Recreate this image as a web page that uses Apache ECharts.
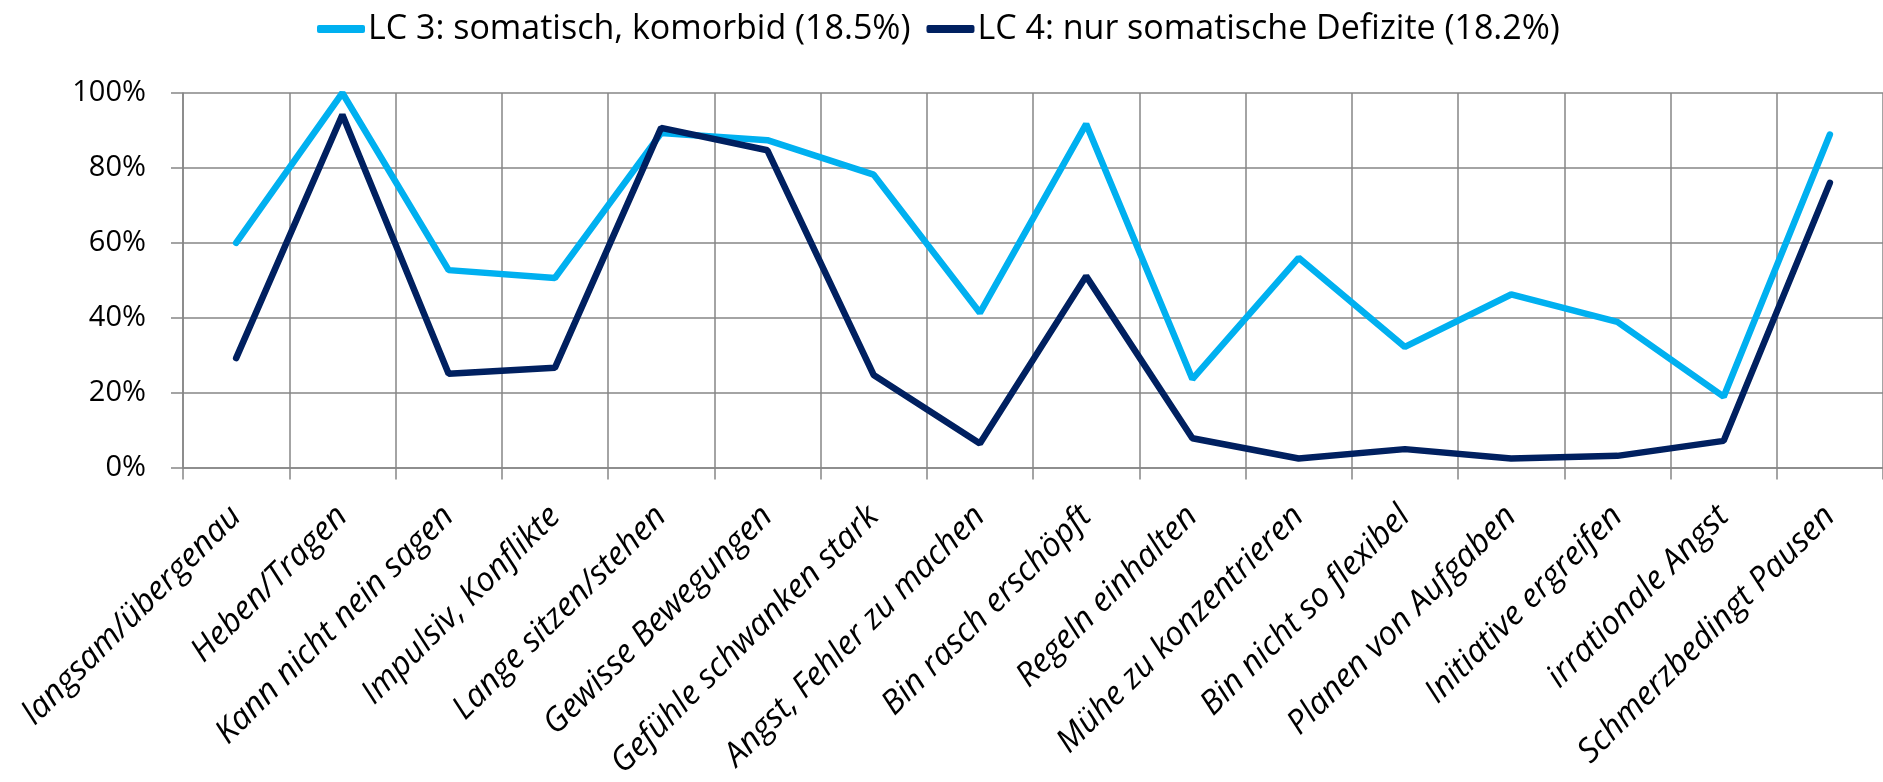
<!DOCTYPE html>
<html>
<head>
<meta charset="utf-8">
<title>LC 3 / LC 4</title>
<script src="https://cdn.jsdelivr.net/npm/echarts@6/dist/echarts.min.js"></script>
<style>
  html, body { margin: 0; padding: 0; background: #fff; }
  #chart { width: 1883px; height: 782px; }
</style>
</head>
<body>
<div id="chart"></div>
<script>
// categories (x axis)
const categories = [
  'langsam/übergenau', 'Heben/Tragen', 'Kann nicht nein sagen', 'Impulsiv, Konflikte',
  'Lange sitzen/stehen', 'Gewisse Bewegungen', 'Gefühle schwanken stark', 'Angst, Fehler zu machen',
  'Bin rasch erschöpft', 'Regeln einhalten', 'Mühe zu konzentrieren', 'Bin nicht so flexibel',
  'Planen von Aufgaben', 'Initiative ergreifen', 'irrationale Angst', 'Schmerzbedingt Pausen'
]
// series values in %
const lc3 = [60, 100, 52.7, 50.6, 89.3, 87.4, 78.2, 41.3, 91.7, 23.6, 56, 32.2, 46.2, 38.9, 18.9, 88.9]
const lc4 = [29.2, 94.2, 25, 26.6, 90.7, 84.7, 24.7, 6.4, 51.1, 7.8, 2.4, 4.9, 2.4, 3.1, 7.1, 76]
const seriesNames = ['LC 3: somatisch, komorbid (18.5%)', 'LC 4: nur somatische Defizite (18.2%)']
const yTicks = [0, 20, 40, 60, 80, 100]

const font = '"Open Sans", "Liberation Sans", sans-serif'
const gridGray = '#868686'

const myChart = echarts.init(document.getElementById('chart'))
const option = {
  animation: false,
  color: ['#00B0F0', '#002060'],
  textStyle: { fontFamily: font },
  legend: {
    top: 7,
    left: 312,
    icon: 'roundRect',
    itemWidth: 48,
    itemHeight: 8,
    itemGap: 16,
    textStyle: { fontSize: 34, color: '#000', fontFamily: font, padding: [0, 0, 0, -2] },
    data: seriesNames
  },
  grid: {
    top: 93,
    left: 183,
    right: -4,
    bottom: 313
  },
  xAxis: {
    type: 'category',
    data: categories,
    boundaryGap: true,
    axisLine: { show: true, lineStyle: { color: gridGray, width: 1.5 } },
    axisTick: { show: true, length: 12, interval: 0, lineStyle: { color: gridGray, width: 1.5 } },
    splitLine: { show: true, interval: 0, lineStyle: { color: gridGray, width: 1.5 } },
    axisLabel: {
      interval: 0,
      rotate: 45,
      margin: 44,
      fontSize: 33,
      fontStyle: 'italic',
      color: '#000',
      fontFamily: font
    }
  },
  yAxis: {
    type: 'value',
    min: yTicks[0],
    max: yTicks[yTicks.length - 1],
    interval: 20,
    axisLine: { show: true, lineStyle: { color: gridGray, width: 1.5 } },
    axisTick: { show: true, length: 12, lineStyle: { color: gridGray, width: 1.5 } },
    splitLine: { show: true, lineStyle: { color: gridGray, width: 1.5 } },
    axisLabel: {
      margin: 37,
      fontSize: 29,
      color: '#000',
      fontFamily: font,
      formatter: '{value}%'
    }
  },
  series: [
    {
      name: seriesNames[0],
      type: 'line',
      data: lc3,
      symbol: 'none',
      lineStyle: { width: 6.5, cap: 'round' }
    },
    {
      name: seriesNames[1],
      type: 'line',
      data: lc4,
      symbol: 'none',
      lineStyle: { width: 6.5, cap: 'round' }
    }
  ]
}
myChart.setOption(option)
</script>
</body>
</html>
